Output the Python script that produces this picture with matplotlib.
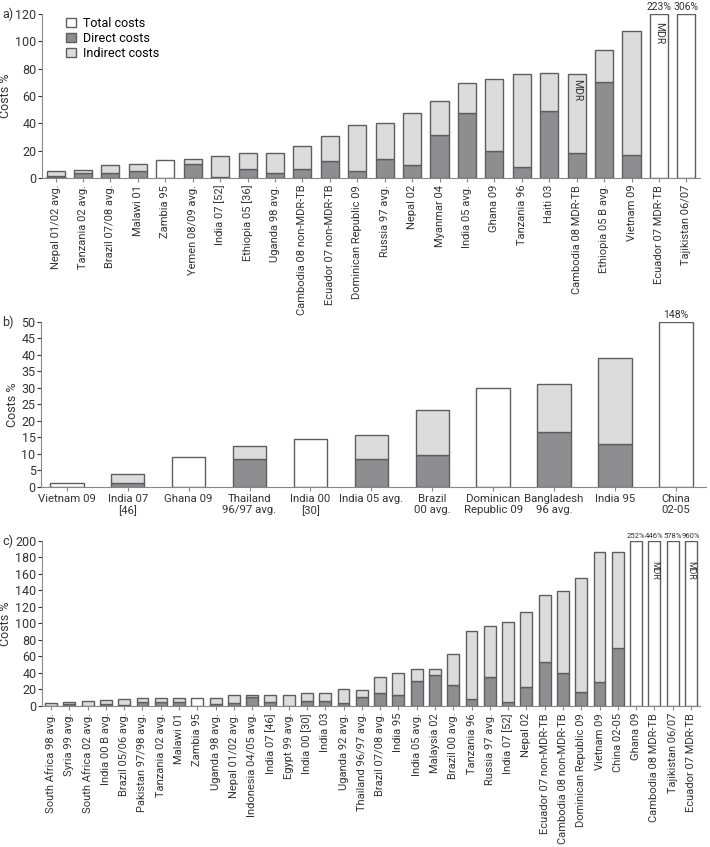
import matplotlib.pyplot as plt
import numpy as np

plt.rcParams['font.family'] = ['Roboto', 'DejaVu Sans']

DIRECT_C = '#8e8e90'
INDIRECT_C = '#dcdcdc'
EDGE = '#5e5e5e'
TXT = '#333333'

# panel a
labels_a = ['Nepal 01/02 avg.', 'Tanzania 02 avg.', 'Brazil 07/08 avg.', 'Malawi 01', 'Zambia 95',
            'Yemen 08/09 avg.', 'India 07 [52]', 'Ethiopia 05 [36]', 'Uganda 98 avg.',
            'Cambodia 08 non-MDR-TB', 'Ecuador 07 non-MDR-TB', 'Dominican Republic 09',
            'Russia 97 avg.', 'Nepal 02', 'Myanmar 04', 'India 05 avg.', 'Ghana 09', 'Tanzania 96',
            'Haiti 03', 'Cambodia 08 MDR-TB', 'Ethiopia 05 B avg.', 'Vietnam 09',
            'Ecuador 07 MDR-TB', 'Tajikistan 06/07']
total_a = [5.1, 5.9, 9.1, 10.5, 13.2, 13.9, 16.2, 17.9, 17.9, 23.5, 30.9, 38.5,
           40.4, 47.8, 55.9, 69.1, 72.0, 75.7, 76.5, 75.7, 93.4, 107.4, 223, 306]
direct_a = [1.7, 3.2, 3.7, 5.1, None, 10.3, 1.0, 6.6, 3.2, 6.6, 12.5, 4.7,
            14.0, 9.6, 31.6, 47.8, 19.4, 8.1, 49.3, 18.4, 69.9, 16.9, None, None]
mdr_a = {'Cambodia 08 MDR-TB': 72, 'Ecuador 07 MDR-TB': 114}

# panel b
labels_b = ['Vietnam 09', 'India 07\n[46]', 'Ghana 09', 'Thailand\n96/97 avg.', 'India 00\n[30]',
            'India 05 avg.', 'Brazil\n00 avg.', 'Dominican\nRepublic 09', 'Bangladesh\n96 avg.',
            'India 95', 'China\n02-05']
total_b = [1.2, 4.0, 8.9, 12.3, 14.6, 15.7, 23.2, 30.0, 31.3, 39.0, 148]
direct_b = [None, 1.2, None, 8.5, None, 8.5, 9.5, None, 16.7, 13.1, None]

# panel c
labels_c = ['South Africa 98 avg.', 'Syria 99 avg.', 'South Africa 02 avg.', 'India 00 B avg.',
            'Brazil 05/06 avg.', 'Pakistan 97/98 avg.', 'Tanzania 02 avg.', 'Malawi 01', 'Zambia 95',
            'Uganda 98 avg.', 'Nepal 01/02 avg.', 'Indonesia 04/05 avg.', 'India 07 [46]',
            'Egypt 99 avg.', 'India 00 [30]', 'India 03', 'Uganda 92 avg.', 'Thailand 96/97 avg.',
            'Brazil 07/08 avg.', 'India 95', 'India 05 avg.', 'Malaysia 02', 'Brazil 00 avg.',
            'Tanzania 96', 'Russia 97 avg.', 'India 07 [52]', 'Nepal 02', 'Ecuador 07 non-MDR-TB',
            'Cambodia 08 non-MDR-TB', 'Dominican Republic 09', 'Vietnam 09', 'China 02-05',
            'Ghana 09', 'Cambodia 08 MDR-TB', 'Tajikistan 06/07', 'Ecuador 07 MDR-TB']
total_c = [3.2, 4.9, 6.1, 6.9, 8.2, 9.8, 9.8, 9.8, 10.2, 9.8, 13.1, 13.1, 13.1,
           13.8, 15.7, 15.5, 20.4, 19.5, 34.6, 40.3, 44.4, 44.4, 63.5, 90.4, 96.5, 101.4,
           113.6, 134.4, 139.3, 154.4, 186.6, 186.6, 252, 446, 578, 960]
direct_c = [0, 2.0, 0, 2.0, 1.5, 4.9, 4.9, 4.9, None, 2.4, 3.7, 11.4, 4.9,
            0, 6.5, 6.5, 4.1, 10.8, 15.9, 13.4, 30.5, 37.1, 24.8, 8.6, 34.6, 4.9,
            23.2, 53.4, 39.5, 17.1, 29.3, 69.7, None, None, None, None]
mdr_c = {'Cambodia 08 MDR-TB': 176, 'Ecuador 07 MDR-TB': 176}

fig = plt.figure(figsize=(7.1, 8.47), dpi=100)


def draw(ax, labels, total, direct, ymax, ystep, width, pct_size, mdr_size, mdr, rot):
    x = np.arange(len(labels))
    tot = np.array(total, dtype=float)
    shown = np.minimum(tot, ymax)
    for i in x:
        d = direct[i]
        if d is None:
            ax.bar(i, shown[i], width, color='white', edgecolor=EDGE, linewidth=1)
        else:
            ax.bar(i, d, width, color=DIRECT_C, edgecolor=EDGE, linewidth=1)
            ax.bar(i, shown[i] - d, width, bottom=d, color=INDIRECT_C, edgecolor=EDGE, linewidth=1)
        if tot[i] > ymax:
            ax.text(i, ymax * 1.01, f'{tot[i]:.0f}%', ha='center', va='bottom',
                    fontsize=pct_size, color=TXT)
        if labels[i] in mdr:
            ax.text(i, mdr[labels[i]], 'MDR', rotation=-90, ha='center', va='top',
                    fontsize=mdr_size, color=TXT)
    ax.set_ylim(0, ymax)
    ax.set_xlim(-0.5, len(labels) - 0.5)
    ax.set_yticks(np.arange(0, ymax + 1, ystep))
    ax.set_xticks(x)
    if rot:
        ax.set_xticklabels(labels, rotation=90, fontsize=8, color=TXT)
    else:
        ax.set_xticklabels(labels, fontsize=8.2, color=TXT)
    ax.tick_params(axis='y', labelsize=9, colors=TXT, length=3, pad=1)
    ax.tick_params(axis='x', length=3, pad=2, color='#888888')
    for s in ['top', 'right']:
        ax.spines[s].set_visible(False)
    for s in ['left', 'bottom']:
        ax.spines[s].set_color('#888888')
    ax.set_ylabel('Costs %', fontsize=9, color=TXT, labelpad=2)


ax_a = fig.add_axes([0.059, 0.790, 0.927, 0.1936])
draw(ax_a, labels_a, total_a, direct_a, 120, 20, 0.66, 7.5, 7.5, mdr_a, True)
ax_a.bar(0, 0, color='white', edgecolor=EDGE, label='Total costs')
ax_a.bar(0, 0, color=DIRECT_C, edgecolor=EDGE, label='Direct costs')
ax_a.bar(0, 0, color=INDIRECT_C, edgecolor=EDGE, label='Indirect costs')
ax_a.legend(loc='upper left', bbox_to_anchor=(0.02, 1.05), frameon=False, fontsize=9,
            handlelength=0.8, handleheight=0.8, handletextpad=0.5, labelspacing=0.15)

ax_b = fig.add_axes([0.058, 0.4254, 0.937, 0.1944])
draw(ax_b, labels_b, total_b, direct_b, 50, 5, 0.55, 7.5, 7.5, {}, False)
ax_b.set_xlim(-0.42, 10.5)

ax_c = fig.add_axes([0.059, 0.1665, 0.927, 0.195])
draw(ax_c, labels_c, total_c, direct_c, 200, 20, 0.65, 5.5, 6.3, mdr_c, True)

fig.text(0.003, 0.983, 'a)', fontsize=9, color=TXT, va='center')
fig.text(0.003, 0.619, 'b)', fontsize=9, color=TXT, va='center')
fig.text(0.003, 0.361, 'c)', fontsize=9, color=TXT, va='center')

fig.savefig('out.png', dpi=100)
